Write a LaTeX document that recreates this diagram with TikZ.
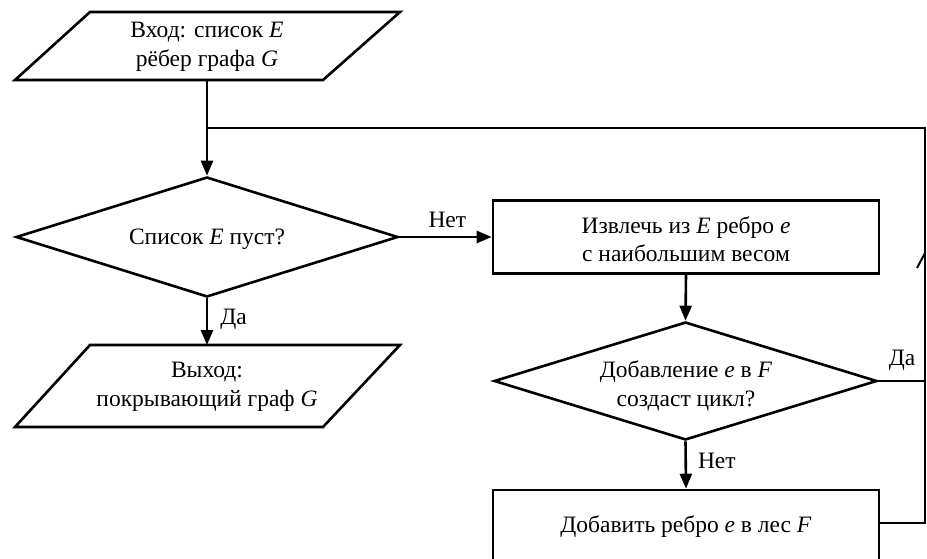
\documentclass[tikz,border=0pt]{standalone}
\usepackage{fontspec}
\setmainfont{Liberation Serif}
\usetikzlibrary{arrows.meta,shapes.geometric}
\begin{document}
\begin{tikzpicture}[x=1pt,y=-1pt,line width=2.6pt,
  fnt/.style={font=\fontsize{23.5}{28.5}\selectfont},
  txt/.style={fnt,align=center,inner sep=0pt},
  lbl/.style={fnt,inner sep=0pt},
  arr/.style={-{Triangle[length=15pt,width=12pt]}},
  procbox/.style={draw,rectangle,txt,minimum width=386pt},
  decision/.style={draw,diamond,txt},
  ioshape/.style={draw,line join=miter}
]
\useasboundingbox (0,0) rectangle (927,559);
\clip (0,0) rectangle (927,559);

% input parallelogram
\coordinate (inN) at (207,12);
\coordinate (inS) at (207,80);
\draw[ioshape] (90,12) -- (400,12) -- (323,80) -- (15,80) -- cycle;
\node[txt] (intxt) at (207,47) {Вход: список \textit{E}\\рёбер графа \textit{G}};

\node[decision,minimum width=382pt,minimum height=120pt,shape aspect=3.18] (d1) at (207,237) {};
\node[txt] (d1txt) at (207,239) {Список \textit{E} пуст?};

% output parallelogram
\coordinate (outN) at (207,345);
\draw[ioshape] (90,345) -- (400,345) -- (323,427) -- (15,427) -- cycle;
\node[txt] (outtxt) at (207,387) {Выход:\\покрывающий граф \textit{G}};

\node[procbox,minimum height=73pt] (b1) at (686,237) {};
\node[txt] (b1txt) at (686,239) {Извлечь из \textit{E} ребро \textit{e}\\с наибольшим весом};

\node[decision,minimum width=383pt,minimum height=118pt,shape aspect=3.25] (d2) at (685.5,381) {};
\node[txt] (d2txt) at (686,386) {Добавление \textit{e} в \textit{F}\\создаст цикл?};

\node[procbox,minimum height=76pt] (b2) at (686,528) {};
\node[txt] (b2txt) at (686,527) {Добавить ребро \textit{e} в лес \textit{F}};

\coordinate (j1) at (207,128);
\coordinate (tr) at (925,128);
\coordinate (br) at (925,523);
\coordinate (tk1) at (917,268);
\coordinate (tk2) at (925,253);

\draw[arr] (inS) -- (d1.north);
\draw (j1) -- (tr) -- (br) -- (b2.east |- br);
\draw[arr] (d1.south) -- node[lbl,right=12pt,pos=0.45] (da1) {Да} (outN);
\draw[arr] (d1.east) -- node[lbl,above=8pt,pos=0.52] (net1) {Нет} (b1.west);
\draw[arr] (b1.south) -- (d2.north);
\draw[arr] (d2.south) -- node[lbl,right=11pt,pos=0.42] (net2) {Нет} (b2.north);
\draw (d2.east) -- (d2.east -| br);
\node[lbl] (da2) at (902,360) {Да};
\draw[line width=2pt] (tk1) -- (tk2);
\end{tikzpicture}
\end{document}
